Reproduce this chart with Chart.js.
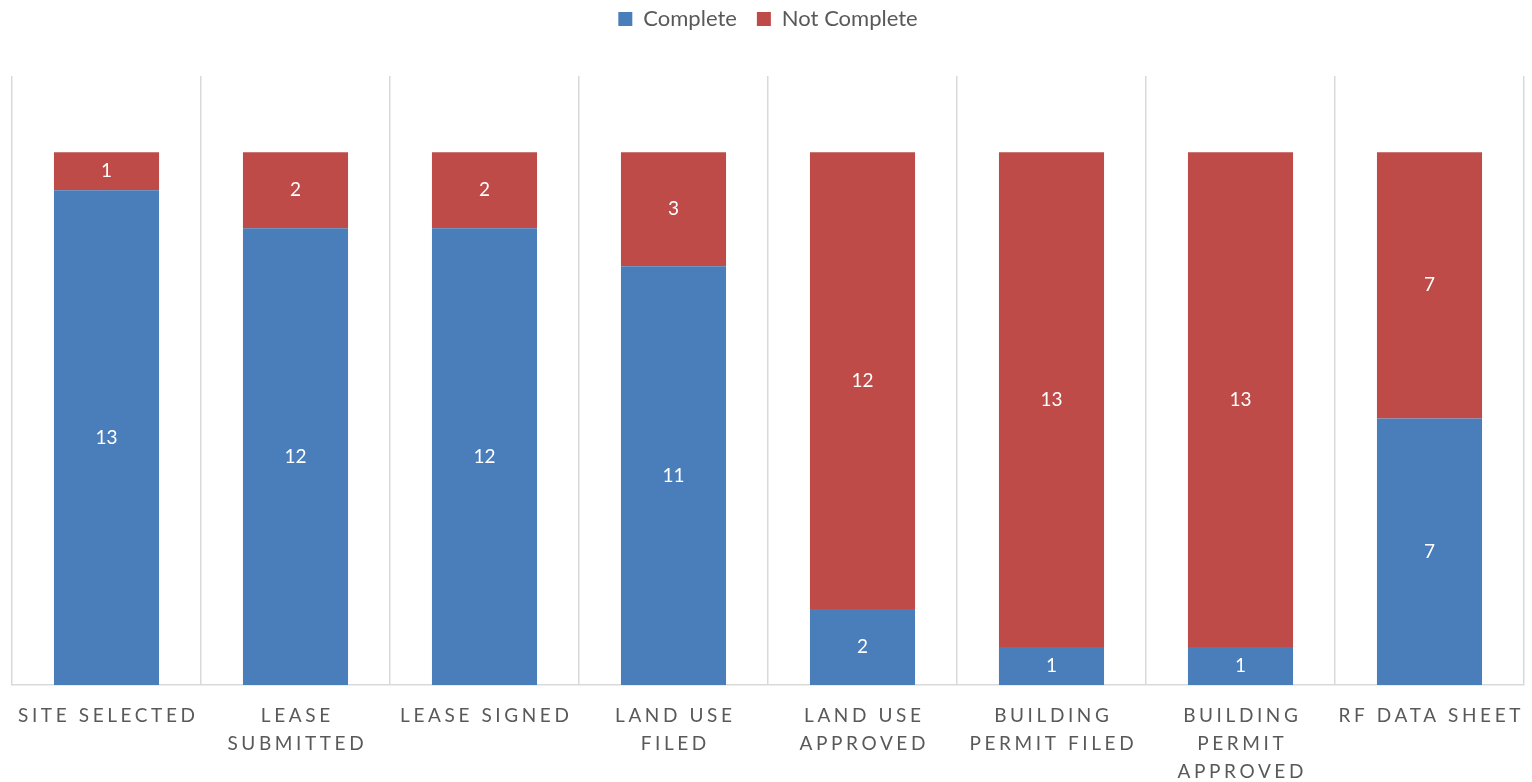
<!DOCTYPE html>
<html>
<head>
<meta charset="utf-8">
<script src="https://cdn.jsdelivr.net/npm/chart.js@4/dist/chart.umd.min.js"></script>
<style>
  html, body { margin: 0; padding: 0; background: #fff; }
  #wrap { width: 1532px; height: 782px; }
</style>
</head>
<body>
<div id="wrap"><canvas id="myChart"></canvas></div>
<script>
var labels = [
    ['SITE SELECTED'],
    ['LEASE', 'SUBMITTED'],
    ['LEASE SIGNED'],
    ['LAND USE', 'FILED'],
    ['LAND USE', 'APPROVED'],
    ['BUILDING', 'PERMIT FILED'],
    ['BUILDING', 'PERMIT', 'APPROVED'],
    ['RF DATA SHEET']
];
var complete = [13, 12, 12, 11, 2, 1, 1, 7];
var notComplete = [1, 2, 2, 3, 12, 13, 13, 7];

// values written in the middle of each segment
const barValues = {
    id: 'barValues',
    afterDatasetsDraw(chart) {
        const ctx = chart.ctx;
        ctx.save();
        ctx.font = '19px Lato, "Open Sans", sans-serif';
        ctx.fillStyle = '#ffffff';
        ctx.textAlign = 'center';
        ctx.textBaseline = 'middle';
        chart.data.datasets.forEach(function (ds, i) {
            chart.getDatasetMeta(i).data.forEach(function (bar, j) {
                const p = bar.getProps(['x', 'y', 'base'], true);
                ctx.fillText(ds.data[j], p.x, (p.y + p.base) / 2);
            });
        });
        ctx.restore();
    }
};

// category names with wide letter spacing, under the axis
const spacedTicks = {
    id: 'spacedTicks',
    afterDraw(chart) {
        const ctx = chart.ctx;
        const x = chart.scales.x;
        ctx.save();
        ctx.font = '19px Lato, "Open Sans", sans-serif';
        ctx.letterSpacing = '3.6px';
        ctx.fillStyle = '#595959';
        ctx.textAlign = 'center';
        ctx.textBaseline = 'middle';
        chart.data.labels.forEach(function (lines, i) {
            const px = x.getPixelForTick(i);
            lines.forEach(function (t, k) {
                ctx.fillText(t, px + 1.8, chart.chartArea.bottom + 31 + k * 28);
            });
        });
        ctx.restore();
    }
};

const legendGap = {
    id: 'legendGap',
    beforeInit(chart) {
        const fit = chart.legend.fit;
        chart.legend.fit = function () {
            fit.call(this);
            this.height += 36;
        };
    }
};

const data = {
    labels: labels,
    datasets: [{
        label: 'Complete',
        backgroundColor: '#4a7ebb',
        data: complete,
        categoryPercentage: 1,
        barPercentage: 0.556
    }, {
        label: 'Not Complete',
        backgroundColor: '#be4b48',
        data: notComplete,
        categoryPercentage: 1,
        barPercentage: 0.556
    }]
};

const config = {
    type: 'bar',
    data: data,
    options: {
        responsive: true,
        maintainAspectRatio: false,
        animation: false,
        layout: { padding: { left: 12, right: 8, top: -12, bottom: 97 } },
        plugins: {
            legend: {
                position: 'top',
                labels: {
                    boxWidth: 14,
                    boxHeight: 14,
                    padding: 20,
                    color: '#595959',
                    font: { family: 'Lato, "Open Sans", sans-serif', size: 22 }
                }
            },
            tooltip: { enabled: false }
        },
        scales: {
            x: {
                stacked: true,
                grid: { offset: true, color: '#d9d9d9', lineWidth: 1.5, drawTicks: false },
                border: { color: '#d9d9d9', width: 1.5 },
                ticks: { display: false }
            },
            y: {
                stacked: true,
                display: false,
                min: 0,
                max: 16
            }
        }
    },
    plugins: [barValues, spacedTicks, legendGap]
};

const myChart = new Chart(document.getElementById('myChart'), config);
</script>
</body>
</html>
